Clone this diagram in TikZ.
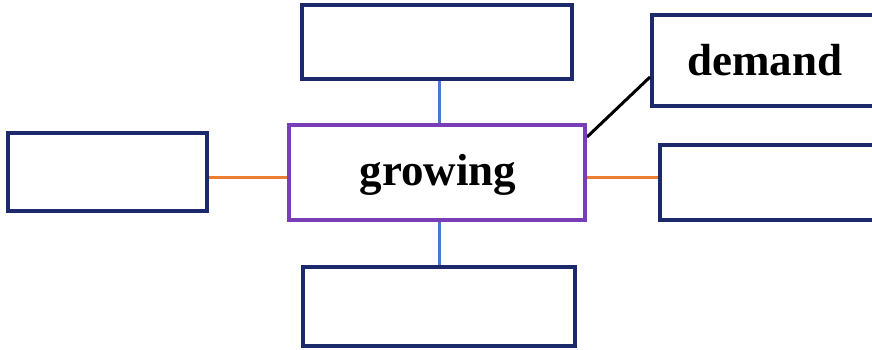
\documentclass[tikz,border=0pt]{standalone}
\usepackage{fontspec}
\setmainfont{Liberation Serif}
\definecolor{navy}{HTML}{1C2A6B}
\definecolor{purp}{HTML}{7A3DB8}
\definecolor{orng}{HTML}{ED7D31}
\definecolor{blu}{HTML}{4A78D0}
\tikzset{
  box/.style={draw=navy, line width=4pt, fill=white, inner sep=0pt},
  mainbox/.style={draw=purp, line width=4pt, fill=white, inner sep=0pt},
  lbl/.style={font=\bfseries\fontsize{45}{50}\selectfont, inner sep=0pt},
  oline/.style={draw=orng, line width=3pt},
  bline/.style={draw=blu, line width=3pt},
  kline/.style={draw=black, line width=3pt}
}
\begin{document}
\begin{tikzpicture}[x=1pt,y=-1pt]
\useasboundingbox (0,0) rectangle (872,349);
\clip (0,0) rectangle (872,349);
% boxes
\node[box, minimum width=270pt, minimum height=74pt] (top) at (437,42) {};
\node[box, minimum width=272pt, minimum height=79pt] (bot) at (439,306.5) {};
\node[box, minimum width=199pt, minimum height=78pt] (left) at (107.5,172) {};
\node[box, minimum width=240pt, minimum height=75pt, anchor=west] (right) at (658,182.5) {};
\node[box, minimum width=250pt, minimum height=91pt, anchor=west] (dem) at (650,60.5) {};
\node[mainbox, minimum width=296pt, minimum height=95pt] (mid) at (437,172.5) {};
% connectors
\draw[bline] (mid.north -| 439,0) -- (top.south -| 439,0);
\draw[bline] (mid.south -| 439,0) -- (bot.north -| 439,0);
\draw[oline] (mid.west |- 0,177) -- (left.east |- 0,177);
\draw[oline] (mid.east |- 0,177) -- (right.west |- 0,177);
\coordinate (dk) at (650,77);
\draw[kline] (mid.east |- 0,137) -- (dk);
% redraw boxes on top of lines
\node[mainbox, minimum width=296pt, minimum height=95pt] at (437,172.5) {};
\node[lbl] (g) at (438,175) {growing};
\node[lbl] (d) at (765,60) {demand};
\end{tikzpicture}
\end{document}
